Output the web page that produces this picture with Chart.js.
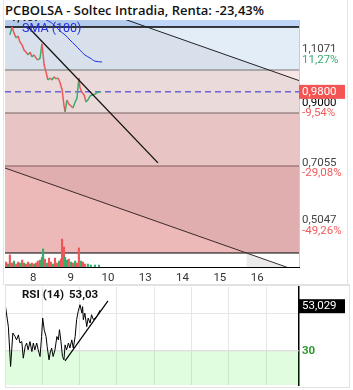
<!DOCTYPE html>
<html>
<head>
<meta charset="utf-8">
<script src="https://cdn.jsdelivr.net/npm/chart.js@4.4.1/dist/chart.umd.min.js"></script>
<style>
  body { margin: 0; background: #fff; }
  #wrap { position: relative; width: 353px; height: 390px; overflow: hidden; background: #fff; }
  #title { position: absolute; left: 0; top: 0; width: 353px; height: 20px; background: #fff; z-index: 2;
           font: 600 13px 'Open Sans', sans-serif; line-height: 20px; padding-left: 5px; box-sizing: border-box; color: #111; }
  #main { position: absolute; left: 0; top: 0; }
  #rsi { position: absolute; left: 0; top: 285px; }
  #frameMain { position: absolute; left: 3px; top: 0; width: 343px; height: 284px; border: 1px solid #e4e4e4; border-top: none; z-index: 3; pointer-events: none; }
  #frameRsi { position: absolute; left: 5px; top: 284px; width: 343px; height: 101px; border: 1px solid #e2e2e2; border-top-width: 2px; z-index: 3; pointer-events: none; }
</style>
</head>
<body>
<div id="wrap">
  <div id="title">PCBOLSA - Soltec Intradia, Renta: -23,43%</div>
  <canvas id="main" width="353" height="285"></canvas>
  <canvas id="rsi" width="353" height="105"></canvas>
  <div id="frameMain"></div>
  <div id="frameRsi"></div>
</div>
<script>
// x axis: trading days (gridline index), labels are day of month
const gridTicks = [0, 1, 2, 3, 4, 5, 6, 7];
const dayLabels = ['', '8', '9', '10', '13', '14', '15', '16'];
const xMax = 7.88;

// intraday price (x = day position, y = price)
const priceX = [0.13,0.19,0.24,0.30,0.35,0.40,0.46,0.51,0.56,0.62,0.67,0.72,0.78,0.83,0.88,0.94,0.99,1.05,1.10,1.15,
                1.21,1.26,1.31,1.37,1.42,1.47,1.53,1.58,1.61,1.66,1.71,1.77,1.82,1.88,1.93,1.98,2.01,2.06,2.12,2.17,
                2.22,2.28,2.33,2.41,2.49,2.57];
const priceY = [1.182,1.210,1.189,1.171,1.178,1.157,1.146,1.128,1.121,1.111,1.121,1.104,1.111,1.100,1.093,1.100,1.150,1.075,1.050,1.022,
                1.029,1.022,1.033,1.026,1.029,1.015,0.987,0.933,0.909,0.951,0.937,0.930,0.923,0.944,0.958,1.029,0.994,0.979,0.969,0.944,
                0.951,0.965,0.969,0.972,0.979,0.980];

const smaX = [1.10,1.21,1.34,1.47,1.61,1.74,1.88,2.01,2.14,2.28,2.41,2.60];
const smaY = [1.235,1.228,1.214,1.196,1.182,1.164,1.146,1.128,1.111,1.100,1.089,1.086];

// volume (thousands), direction 1 = up candle, -1 = down candle
const volX = [0.03,0.08,0.13,0.19,0.24,0.30,0.35,0.40,0.46,0.51,0.56,0.62,0.67,0.72,0.78,0.83,0.88,0.94,0.99,1.02,
              1.07,1.13,1.18,1.23,1.29,1.34,1.39,1.45,1.50,1.53,1.58,1.61,1.66,1.71,1.77,1.82,1.88,1.93,1.98,2.04,
              2.09,2.14,2.22,2.30,2.41,2.52];
const volY = [2.0,1.2,4.9,1.6,2.4,1.2,2.0,1.6,2.8,1.6,1.2,2.0,1.2,1.6,1.2,1.6,2.4,2.8,4.0,7.3,
              3.2,1.6,3.6,2.0,1.2,3.6,1.6,2.4,3.2,11.3,8.1,4.0,2.8,3.2,2.0,1.6,2.4,1.6,7.7,2.4,
              2.0,1.2,1.2,0.8,0.8,0.8];
const volDir = [-1,1,-1,-1,1,-1,-1,1,-1,1,-1,-1,1,-1,1,-1,-1,1,-1,1,
                -1,1,-1,-1,1,-1,-1,1,-1,-1,-1,1,1,-1,1,-1,1,-1,-1,1,
                -1,-1,1,1,1,1];

// drawn trend lines
const trendX = [0.62, 4.10];
const trendY = [1.210, 0.728];
const chanX = [0, 7.88];
const chanUpper = [1.387, 1.020];
const chanLower = [0.710, 0.343];
const chanVolX = [6.47, 7.88];
const chanVolY = [0.4085, 0.343];

// price zones (top -> bottom)
const zoneEdges = [1.2348, 1.2099, 1.0575, 0.905, 0.717, 0.4085, 0.3589];
const priceMin = 0.3589, priceMax = 1.2348;

const levelValues = [1.1071, 0.9000, 0.7055, 0.5047];
const levelPct = ['11,27%', '-9,54%', '-29,08%', '-49,26%'];
const lastPrice = 0.98;

// RSI (14)
const rsiX = [0,0.09,0.15,0.21,0.27,0.31,0.36,0.40,0.45,0.49,0.54,0.58,0.62,0.67,0.72,0.76,0.80,0.85,0.89,0.94,
              0.98,1.01,1.05,1.10,1.13,1.18,1.21,1.25,1.29,1.34,1.39,1.43,1.46,1.50,1.54,1.58,1.61,1.65,1.70,1.74,
              1.79,1.83,1.88,1.92,1.96,2.01,2.06,2.08,2.10,2.14,2.19,2.23,2.28,2.32,2.37,2.41,2.46,2.55];
const rsiY = [55.8,43.1,21.5,39.6,37.7,35.9,38.6,34.2,35.0,26.0,32.3,34.2,30.5,35.0,29.6,34.2,30.5,34.2,30.5,26.9,
              37.7,47.7,41.4,37.7,32.3,25.1,28.8,31.5,26.9,30.5,37.7,35.9,41.4,35.0,26.9,25.1,33.2,30.5,34.2,31.5,
              35.9,31.5,37.7,46.8,51.2,54.9,50.4,53.9,46.8,50.4,43.1,47.7,45.0,49.5,46.8,47.7,48.5,52.0];
const rsiTrendX = [1.61, 2.76];
const rsiTrendY = [24.6, 57.0];
const rsiLast = 53.029;
const rsiLow = 30;

Chart.defaults.font.family = 'Roboto';
Chart.defaults.animation = false;

const pts = (xs, ys) => xs.map((x, i) => ({ x: x, y: ys[i] }));
const flat = (v) => [{ x: 0, y: v }, { x: xMax, y: v }];

const UP = '#35ad6c', DOWN = '#ef5656';

// zone fills and their top border lines
const zoneStyle = [
  { bg: '#bfd6f8', line: 'rgba(0,0,0,0)', w: 0 },
  { bg: '#e3edf8', line: '#000', w: 1.5 },
  { bg: '#f8e6e6', line: '#777', w: 1.2 },
  { bg: '#f5cfcf', line: '#7d6868', w: 1.2 },
  { bg: '#ecb8b8', line: '#8a6262', w: 1.2 },
  { bg: '#ffffff', line: '#000', w: 1.2 }
];
const zoneSets = zoneStyle.map((z, i) => ({
  type: 'line', data: flat(zoneEdges[i]), borderColor: z.line, borderWidth: z.w,
  backgroundColor: z.bg, fill: { target: { value: zoneEdges[i + 1] } },
  pointRadius: 0, order: i === 5 ? 70 : 100 - i
}));

const mainLabels = {
  id: 'mainLabels',
  afterDraw(chart) {
    const { ctx, chartArea } = chart;
    const y = chart.scales.y;
    const x0 = chartArea.right + 3;
    ctx.save();
    ctx.textBaseline = 'middle';
    ctx.textAlign = 'left';
    ctx.font = '11.5px Roboto';
    const offs = [[-7, 4], [-11, -1], [-6, 4], [-6, 5]];
    levelValues.forEach((v, i) => {
      const py = y.getPixelForValue(v);
      ctx.fillStyle = i === 1 ? '#000' : '#444';
      ctx.fillText(v.toFixed(4).replace('.', ','), x0, py + offs[i][0]);
      ctx.fillStyle = levelPct[i].startsWith('-') ? '#f25a5a' : '#3aaa72';
      ctx.fillText(levelPct[i], x0, py + offs[i][1]);
    });
    const ly = y.getPixelForValue(lastPrice);
    ctx.fillStyle = '#f35555';
    ctx.fillRect(chartArea.right, ly - 7, 46, 14);
    ctx.fillStyle = '#fff';
    ctx.fillText(lastPrice.toFixed(4).replace('.', ','), x0, ly);
    ctx.fillStyle = '#2530e0';
    ctx.font = '12.5px Roboto';
    ctx.fillText('SMA (100)', chartArea.left + 17, chartArea.top + 9);
    ctx.fillStyle = '#222';
    ctx.font = 'bold 12px Roboto';
    ctx.fillText('1,407', chartArea.left + 5, chartArea.top - 2);
    ctx.restore();
  }
};

new Chart(document.getElementById('main'), {
  data: {
    datasets: [
      ...zoneSets,
      { type: 'line', data: pts(chanX, chanUpper), borderColor: '#222', borderWidth: 1,
        backgroundColor: 'rgba(0,0,0,0.05)', fill: '+1', pointRadius: 0, order: 80 },
      { type: 'line', data: pts(chanX, chanLower), borderColor: '#3a2a2a', borderWidth: 1,
        fill: false, pointRadius: 0, order: 60 },
      { type: 'line', data: pts(chanVolX, chanVolY), borderColor: 'rgba(0,0,0,0)', borderWidth: 0,
        backgroundColor: '#ebebeb', fill: 'start', pointRadius: 0, order: 65 },
      { type: 'bar', data: pts(volX, volY), yAxisID: 'yv', barThickness: 1.5,
        backgroundColor: volDir.map(d => d > 0 ? UP : DOWN), order: 50 },
      { type: 'line', data: flat(lastPrice), borderColor: '#2b2bd6', borderWidth: 1, borderDash: [6, 4],
        pointRadius: 0, fill: false, order: 40 },
      { type: 'line', data: pts(smaX, smaY), borderColor: '#1e2fe6', borderWidth: 1, pointRadius: 0,
        fill: false, tension: 0.3, order: 35 },
      { type: 'line', data: pts(priceX, priceY), borderWidth: 1.5, pointRadius: 0, fill: false, order: 30,
        segment: { borderColor: c => c.p1.parsed.y >= c.p0.parsed.y ? UP : DOWN } },
      { type: 'line', data: pts(trendX, trendY), borderColor: '#111', borderWidth: 1.3, pointRadius: 0,
        fill: false, order: 20 }
    ]
  },
  options: {
    responsive: false,
    animation: false,
    layout: { padding: { left: 5, top: 20, right: 0, bottom: 0 } },
    plugins: { legend: { display: false }, tooltip: { enabled: false } },
    scales: {
      x: {
        type: 'linear', min: 0, max: xMax, offset: false,
        afterBuildTicks: s => { s.ticks = gridTicks.map(v => ({ value: v })); },
        afterFit: s => { s.height = 18; },
        ticks: { callback: (v, i) => dayLabels[i], autoSkip: false, maxRotation: 0,
                 labelOffset: -9, padding: 4, color: '#333', font: { size: 11.5 } },
        grid: { color: 'rgba(0,0,0,0.07)', drawTicks: false, offset: false },
        border: { color: '#000', width: 1 }
      },
      y: {
        type: 'linear', position: 'right', min: priceMin, max: priceMax,
        afterBuildTicks: s => { s.ticks = [levelValues[0], levelValues[3]].map(v => ({ value: v })); },
        afterFit: s => { s.width = 54; },
        ticks: { display: false },
        grid: { color: 'rgba(0,0,0,0.07)', drawTicks: false },
        border: { color: '#000', width: 1.2 }
      },
      yv: { type: 'linear', display: false, min: 0, max: 100 }
    }
  },
  plugins: [mainLabels]
});

const rsiLabels = {
  id: 'rsiLabels',
  afterDraw(chart) {
    const { ctx, chartArea } = chart;
    const y = chart.scales.y;
    const x0 = chartArea.right + 3;
    ctx.save();
    ctx.textBaseline = 'middle';
    ctx.textAlign = 'left';
    ctx.font = 'bold 11.5px Roboto';
    ctx.fillStyle = '#111';
    ctx.fillText('RSI (14)', chartArea.left + 17, chartArea.top + 8);
    ctx.fillText(rsiLast.toFixed(2).replace('.', ','), chartArea.left + 64, chartArea.top + 8);
    ctx.fillStyle = '#2a9a2a';
    ctx.fillText(String(rsiLow), x0, y.getPixelForValue(rsiLow));
    const ly = y.getPixelForValue(rsiLast) - 2;
    ctx.fillStyle = '#000';
    ctx.fillRect(chartArea.right, ly - 7, 46, 14);
    ctx.fillStyle = '#fff';
    ctx.font = '11.5px Roboto';
    ctx.fillText(rsiLast.toFixed(3).replace('.', ','), x0, ly);
    ctx.restore();
  }
};

new Chart(document.getElementById('rsi'), {
  data: {
    datasets: [
      { type: 'line', data: flat(rsiLow), borderColor: '#dcdcdc', borderWidth: 1,
        backgroundColor: 'rgba(0,235,0,0.12)', fill: 'start', pointRadius: 0, order: 10 },
      { type: 'line', data: pts(rsiX, rsiY), borderColor: '#000', borderWidth: 1, pointRadius: 0,
        fill: false, order: 5 },
      { type: 'line', data: pts(rsiTrendX, rsiTrendY), borderColor: '#000', borderWidth: 1.2, pointRadius: 0,
        fill: false, order: 4 }
    ]
  },
  options: {
    responsive: false,
    animation: false,
    layout: { padding: { left: 5, top: 2, right: 0, bottom: 5 } },
    plugins: { legend: { display: false }, tooltip: { enabled: false } },
    scales: {
      x: {
        type: 'linear', min: 0, max: xMax,
        afterBuildTicks: s => { s.ticks = gridTicks.map(v => ({ value: v })); },
        afterFit: s => { s.height = 0; },
        ticks: { display: false },
        grid: { color: '#e6e6e6', drawTicks: false },
        border: { display: false }
      },
      y: {
        type: 'linear', position: 'right', min: 11.5, max: 64.5,
        afterBuildTicks: s => { s.ticks = [30, 50].map(v => ({ value: v })); },
        afterFit: s => { s.width = 54; },
        ticks: { display: false },
        grid: { color: '#e6e6e6', drawTicks: false },
        border: { color: '#000', width: 1.5 }
      }
    }
  },
  plugins: [rsiLabels]
});
</script>
</body>
</html>
